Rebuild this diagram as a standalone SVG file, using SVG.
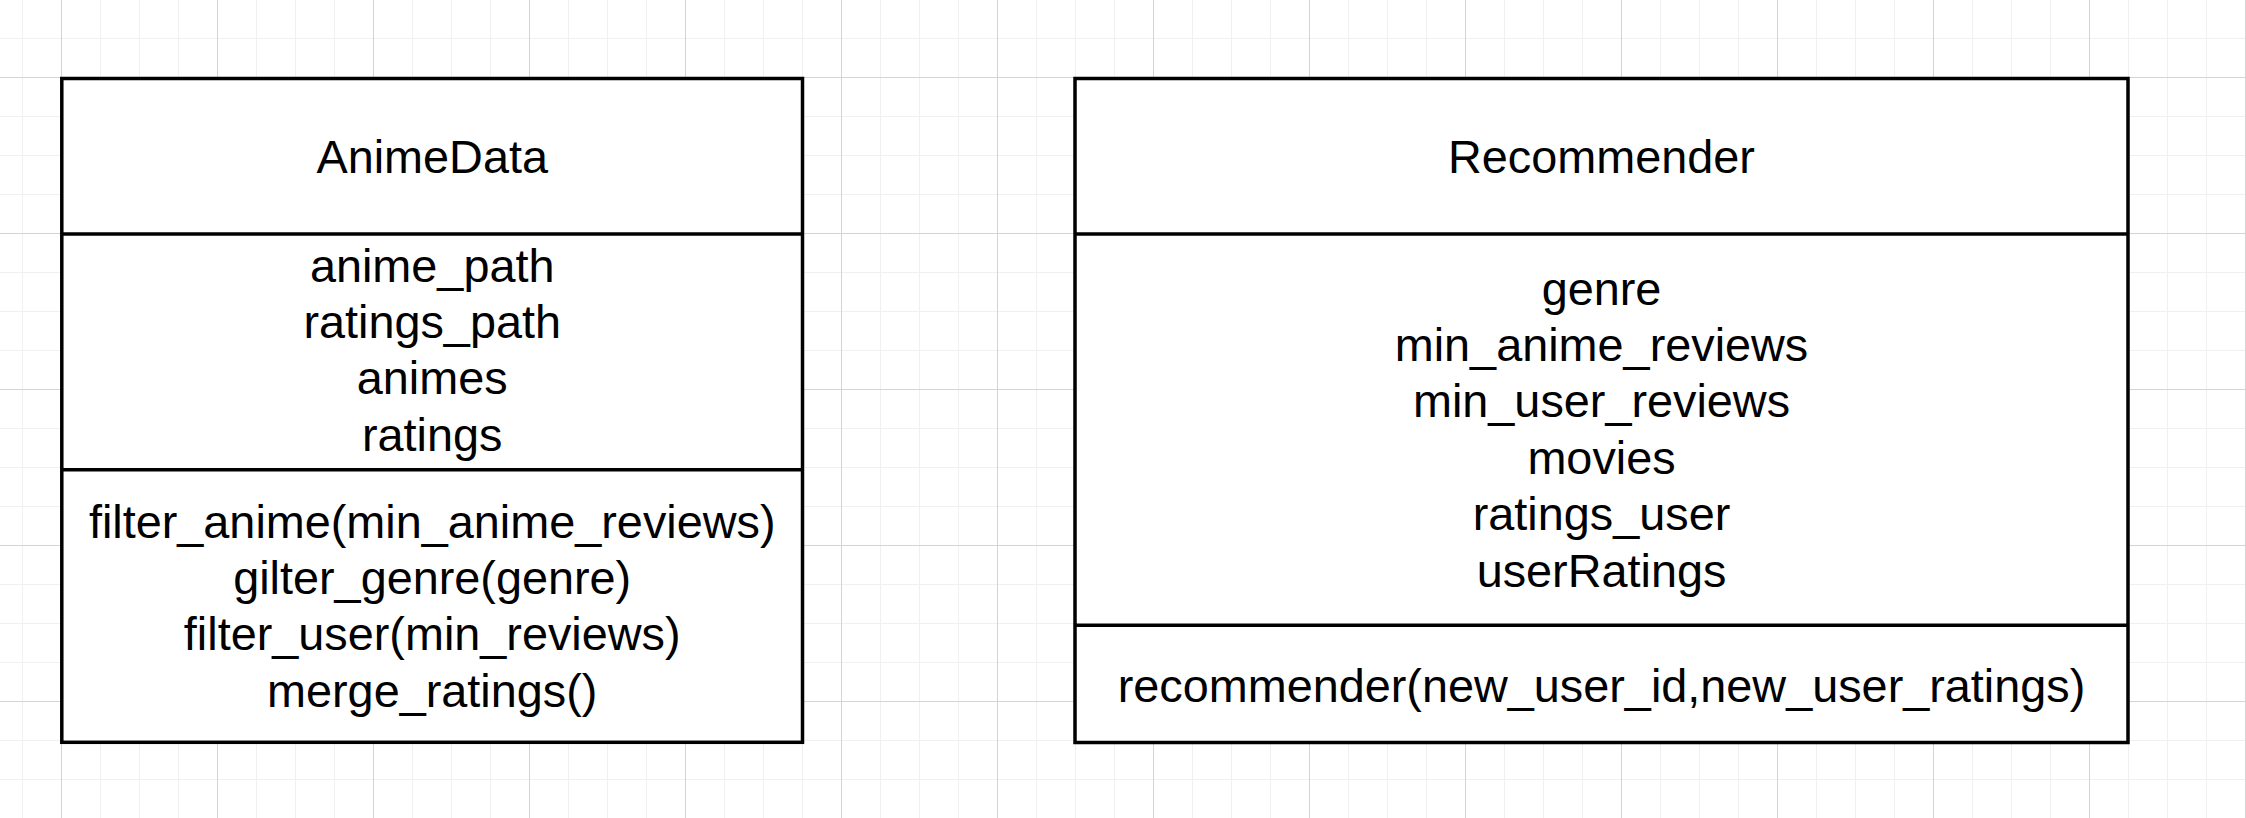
<svg xmlns="http://www.w3.org/2000/svg" width="2246" height="818" viewBox="0 0 2246 818">
  <style>
    .box { fill: #ffffff; stroke: #000000; stroke-width: 3.5; }
    .div { stroke: #000000; stroke-width: 3.5; fill: none; }
    .t { font-family: "Liberation Sans", Arial, sans-serif; font-size: 46.8px; fill: #000000; text-anchor: middle; }
  </style>
  <defs>
    <pattern id="grid" patternUnits="userSpaceOnUse" x="61" y="77" width="156" height="156">
      <path d="M39.5 0V156M78.5 0V156M117.5 0V156M0 39.5H156M0 78.5H156M0 117.5H156" stroke="#f0f0f0" stroke-width="1" fill="none"/>
      <path d="M0.5 0V156M0 0.5H156" stroke="#d4d4d4" stroke-width="1" fill="none"/>
    </pattern>
  </defs>
  <rect x="0" y="0" width="2246" height="818" fill="#ffffff"/>
  <rect x="0" y="0" width="2246" height="818" fill="url(#grid)"/>

  <g id="connectors"></g>

  <g id="node-animedata">
    <rect class="box" x="61.8" y="78.5" width="740.7" height="663.8"/>
    <line class="div" x1="61.8" y1="234" x2="802.5" y2="234"/>
    <line class="div" x1="61.8" y1="469.7" x2="802.5" y2="469.7"/>
    <text class="t" x="432.2" y="173.3">AnimeData</text>
    <text class="t" x="432.2" y="281.7">anime_path</text>
    <text class="t" x="432.2" y="338">ratings_path</text>
    <text class="t" x="432.2" y="394.3">animes</text>
    <text class="t" x="432.2" y="450.6">ratings</text>
    <text class="t" x="432.2" y="537.7">filter_anime(min_anime_reviews)</text>
    <text class="t" x="432.2" y="594">gilter_genre(genre)</text>
    <text class="t" x="432.2" y="650.3">filter_user(min_reviews)</text>
    <text class="t" x="432.2" y="706.6">merge_ratings()</text>
  </g>

  <g id="node-recommender">
    <rect class="box" x="1075" y="78.5" width="1053" height="664"/>
    <line class="div" x1="1075" y1="234" x2="2128" y2="234"/>
    <line class="div" x1="1075" y1="625.3" x2="2128" y2="625.3"/>
    <text class="t" x="1601.5" y="173.3">Recommender</text>
    <text class="t" x="1601.5" y="304.7">genre</text>
    <text class="t" x="1601.5" y="361">min_anime_reviews</text>
    <text class="t" x="1601.5" y="417.4">min_user_reviews</text>
    <text class="t" x="1601.5" y="473.8">movies</text>
    <text class="t" x="1601.5" y="530.1">ratings_user</text>
    <text class="t" x="1601.5" y="586.5">userRatings</text>
    <text class="t" x="1601.5" y="701.7">recommender(new_user_id,new_user_ratings)</text>
  </g>
</svg>
